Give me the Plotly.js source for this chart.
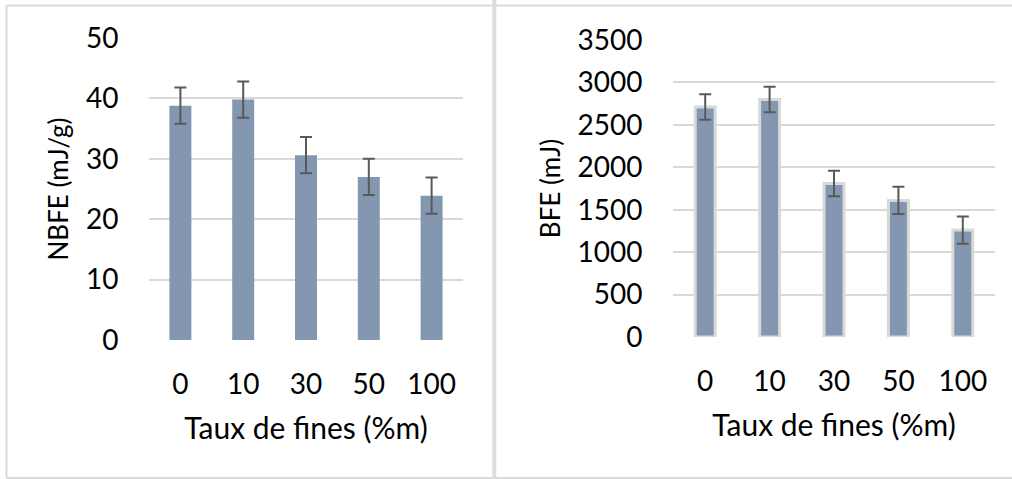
<!DOCTYPE html>
<html>
<head>
<meta charset="utf-8">
<script src="https://cdn.plot.ly/plotly-3.0.1.min.js"></script>
<style>
html,body{margin:0;padding:0;background:#fff;}
#chart{width:1012px;height:479px;}
</style>
</head>
<body>
<div id="chart"></div>
<script>
var categories = ["0", "10", "30", "50", "100"];
var nbfeValues = [38.8, 39.8, 30.6, 27.0, 23.9];
var nbfeErrors = [3.0, 3.0, 3.0, 3.0, 3.0];
var bfeValues = [2710, 2800, 1810, 1610, 1260];
var bfeErrors = [150, 150, 150, 160, 160];
var xTitle = "Taux de fines (%m)";
var nbfeTitle = "NBFE (mJ/g)";
var bfeTitle = "BFE (mJ)";

var W = 1012, H = 479;
function px(x){ return x / W; }
function py(y){ return 1 - y / H; }

var barColor = "#8497b0";
var errColor = "#595959";
var gridColor = "#d9d9d9";
var font = "Lato, 'Open Sans', sans-serif";

var traces = [
  {
    type: "bar", x: categories, y: nbfeValues, xaxis: "x", yaxis: "y",
    width: 0.35,
    marker: {color: barColor, line: {width: 0}},
    error_y: {type: "data", array: nbfeErrors, visible: true, color: errColor, thickness: 2, width: 6},
    hoverinfo: "x+y", showlegend: false
  },
  {
    type: "bar", x: categories, y: bfeValues, xaxis: "x2", yaxis: "y2",
    width: 0.31,
    marker: {color: barColor, line: {width: 3, color: "#d9d9d9"}},
    error_y: {type: "data", array: bfeErrors, visible: true, color: errColor, thickness: 2, width: 6},
    hoverinfo: "x+y", showlegend: false
  }
];

var tickFont = {family: font, size: 28, color: "#000"};
var xTitleFont = {family: font, size: 30, color: "#000"};
var yTitleFont = {family: font, size: 26, color: "#000"};

var commonX = {
  type: "category", showgrid: false, zeroline: false, showline: false,
  ticks: "outside", ticklen: 19, tickcolor: "rgba(0,0,0,0)",
  tickfont: tickFont, fixedrange: true
};
var commonY = {
  showgrid: true, gridcolor: gridColor, gridwidth: 2,
  zeroline: false, showline: false,
  ticks: "outside", ticklen: 24, tickcolor: "rgba(0,0,0,0)",
  tickfont: tickFont, fixedrange: true
};

var layout = {
  width: W, height: H,
  margin: {l: 0, r: 0, t: 0, b: 0, autoexpand: false},
  paper_bgcolor: "#fff", plot_bgcolor: "rgba(0,0,0,0)",
  font: {family: font},
  xaxis: Object.assign({}, commonX, {
    domain: [px(149), px(463)], anchor: "y",
    title: {text: xTitle, font: xTitleFont, standoff: 19}
  }),
  yaxis: Object.assign({}, commonY, {
    domain: [py(340), py(38)], anchor: "x",
    range: [0, 50], dtick: 10,
    title: {text: nbfeTitle, font: yTitleFont, standoff: 9}
  }),
  xaxis2: Object.assign({}, commonX, {
    domain: [px(673), px(995)], anchor: "y2",
    title: {text: xTitle, font: xTitleFont, standoff: 19}
  }),
  yaxis2: Object.assign({}, commonY, {
    domain: [py(337), py(40)], anchor: "x2",
    range: [0, 3500], dtick: 500,
    title: {text: bfeTitle, font: yTitleFont, standoff: 9}
  }),
  shapes: [
    {type: "line", xref: "paper", yref: "paper", x0: px(6.5), x1: px(6.5), y0: py(5.5), y1: py(478), line: {color: gridColor, width: 2}},
    {type: "line", xref: "paper", yref: "paper", x0: px(6.5), x1: px(1012), y0: py(5.5), y1: py(5.5), line: {color: gridColor, width: 2}},
    {type: "line", xref: "paper", yref: "paper", x0: px(6.5), x1: px(1012), y0: py(478), y1: py(478), line: {color: gridColor, width: 2}},
    {type: "line", xref: "paper", yref: "paper", x0: px(494.3), x1: px(494.3), y0: py(0), y1: py(479), line: {color: "#dcdcdc", width: 4}}
  ]
};

Plotly.newPlot("chart", traces, layout, {displayModeBar: false, staticPlot: true});
</script>
</body>
</html>
